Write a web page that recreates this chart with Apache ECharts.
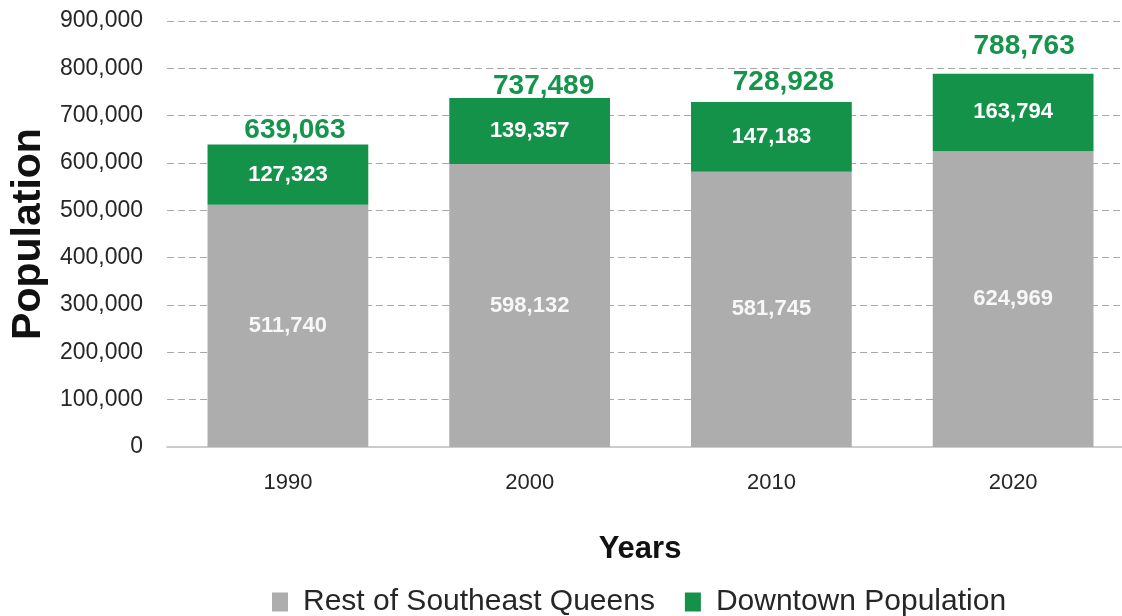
<!DOCTYPE html>
<html>
<head>
<meta charset="utf-8">
<script src="https://cdn.jsdelivr.net/npm/echarts@6/dist/echarts.min.js"></script>
<style>
  html, body { margin: 0; padding: 0; background: #ffffff; overflow: hidden; width: 1122px; height: 616px; }
  #chart { width: 1134px; height: 616px; }
</style>
</head>
<body>
<div id="chart"></div>
<script>
const years = ['1990', '2000', '2010', '2020'];
const restOfSoutheastQueens = [511740, 598132, 581745, 624969];
const downtownPopulation = [127323, 139357, 147183, 163794];
const totalPopulation = [639063, 737489, 728928, 788763];
const yTicks = [0, 100000, 200000, 300000, 400000, 500000, 600000, 700000, 800000, 900000];

// label nudges (style only), per year: [dx, dy]
const totalLabelNudge = [[7, 0], [14, 3], [12, -5], [11, -13]];

const fmt = v => Number(v).toLocaleString('en-US');
const FONT = '"Liberation Sans", Arial, sans-serif';
const GREEN = '#14924a';
const GRAY = '#adadad';

const chart = echarts.init(document.getElementById('chart'), null, { renderer: 'canvas' });

chart.setOption({
  animation: false,
  backgroundColor: '#ffffff',
  textStyle: { fontFamily: FONT },
  grid: { left: 167, right: 0, top: 21, bottom: 169, containLabel: false },
  legend: {
    data: ['Rest of Southeast Queens', 'Downtown Population'],
    left: 267,
    top: 582,
    icon: 'rect',
    itemWidth: 16,
    itemHeight: 19,
    itemGap: 30,
    textStyle: { fontFamily: FONT, fontSize: 30, color: '#262626', padding: [0, 0, 0, 10] }
  },
  xAxis: {
    type: 'category',
    data: years,
    name: 'Years',
    nameLocation: 'middle',
    nameGap: 87,
    nameTextStyle: { fontFamily: FONT, fontSize: 31, fontWeight: 'bold', color: '#111111', padding: [0, 21, 0, 0] },
    axisTick: { show: false },
    axisLine: { show: true, lineStyle: { color: '#cccccc', width: 2 } },
    axisLabel: { fontFamily: FONT, fontSize: 22, color: '#262626', margin: 25 },
    splitLine: { show: false }
  },
  yAxis: {
    type: 'value',
    min: yTicks[0],
    max: yTicks[yTicks.length - 1],
    interval: yTicks[1] - yTicks[0],
    name: 'Population',
    nameLocation: 'middle',
    nameGap: 115,
    nameTextStyle: { fontFamily: FONT, fontSize: 41, fontWeight: 'bold', color: '#111111' },
    axisLine: { show: false },
    axisTick: { show: false },
    axisLabel: { fontFamily: FONT, fontSize: 23, color: '#262626', margin: 24, formatter: v => fmt(v) },
    splitLine: { show: true, lineStyle: { color: '#a8a8a8', width: 1.2, type: [7, 4] } }
  },
  series: [
    {
      name: 'Rest of Southeast Queens',
      type: 'bar',
      stack: 'pop',
      barWidth: '66.5%',
      data: restOfSoutheastQueens,
      itemStyle: { color: GRAY },
      label: {
        show: true,
        position: 'inside',
        fontFamily: FONT,
        fontSize: 22,
        fontWeight: 'bold',
        color: '#f7f7f7',
        formatter: p => fmt(p.value)
      }
    },
    {
      name: 'Downtown Population',
      type: 'bar',
      stack: 'pop',
      barWidth: '66.5%',
      data: downtownPopulation,
      itemStyle: { color: GREEN },
      label: {
        show: true,
        position: 'inside',
        fontFamily: FONT,
        fontSize: 22,
        fontWeight: 'bold',
        color: '#ffffff',
        formatter: p => fmt(p.value)
      }
    },
    {
      name: 'Total',
      type: 'scatter',
      silent: true,
      symbolSize: 1,
      itemStyle: { color: 'rgba(0,0,0,0)', opacity: 1 },
      z: 10,
      data: totalPopulation.map((v, i) => ({
        value: v,
        label: { offset: totalLabelNudge[i] }
      })),
      label: {
        show: true,
        position: 'top',
        distance: 0,
        opacity: 1,
        fontFamily: FONT,
        fontSize: 28,
        fontWeight: 'bold',
        color: '#16944c',
        formatter: p => fmt(p.value)
      }
    }
  ]
});
</script>
</body>
</html>
